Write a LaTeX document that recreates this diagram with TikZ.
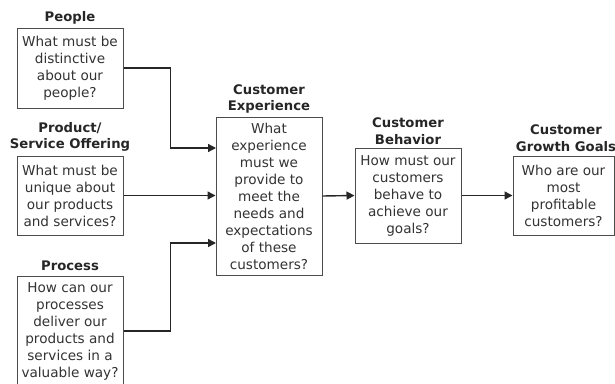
\documentclass[tikz,border=0pt]{standalone}
\usepackage{fontspec}
\setmainfont{DejaVu Sans}
\usetikzlibrary{arrows.meta}
\begin{document}
\begin{tikzpicture}[x=1pt,y=-1pt,
  qbox/.style={draw=black!70, line width=1pt, fill=white, align=center,
    inner sep=0pt, font=\fontsize{13.6}{17}\selectfont, text=black!80},
  heading/.style={align=center, inner sep=0pt,
    font=\fontsize{13.2}{16.5}\selectfont\bfseries, text=black!85},
  link/.style={line width=1.4pt, draw=black!85,
    -{Triangle[length=8pt,width=8pt]}}]
\useasboundingbox (0,0) rectangle (615,383);

% question boxes
\node[qbox, minimum width=106, minimum height=80] (people) at (70,68)
  {What must be\\distinctive\\about our\\people?};
\node[qbox, minimum width=106, minimum height=79] (product) at (70,195.5)
  {What must be\\unique about\\our products\\and services?};
\node[qbox, minimum width=106, minimum height=110] (process) at (70,331)
  {How can our\\processes\\deliver our\\products and\\services in a\\valuable way?};
\node[qbox, minimum width=106, minimum height=158] (exper) at (269,196)
  {What\\experience\\must we\\provide to\\meet the\\needs and\\expectations\\of these\\customers?};
\node[qbox, minimum width=106, minimum height=95] (behav) at (408,195.5)
  {How must our\\customers\\behave to\\achieve our\\goals?};
\node[qbox, minimum width=101, minimum height=79] (goals) at (563.5,195.5)
  {Who are our\\most\\profitable\\customers?};

% headings
\node[heading] (tpeople) at (70,18) {People};
\node[heading] (tproduct) at (70,137) {Product/\\Service Offering};
\node[heading] (tprocess) at (70,266) {Process};
\node[heading] (texper) at (269,99) {Customer\\Experience};
\node[heading] (tbehav) at (408,131) {Customer\\Behavior};
\node[heading] (tgoals) at (566,138) {Customer\\Growth Goals};

% entry points on the experience box
\coordinate (in1) at (216,148);
\coordinate (in3) at (216,243);

% connectors
\draw[link] (people.east) -- ++(47,0) |- (in1);
\draw[link] (product.east) -- (exper.west |- product.east);
\draw[link] (process.east) -- ++(47,0) |- (in3);
\draw[link] (exper.east) -- (behav.west);
\draw[link] (behav.east) -- (goals.west);
\end{tikzpicture}
\end{document}
